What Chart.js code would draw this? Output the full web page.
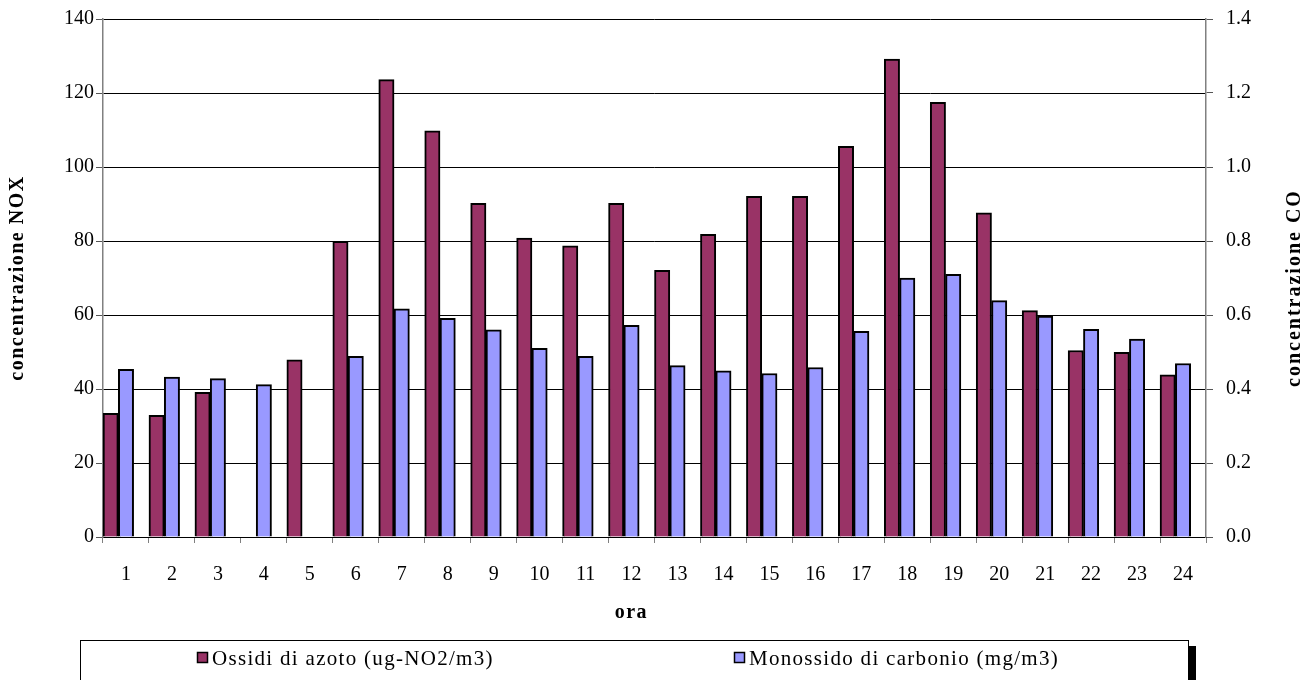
<!DOCTYPE html>
<html>
<head>
<meta charset="utf-8">
<script src="https://cdn.jsdelivr.net/npm/chart.js@4/dist/chart.umd.min.js"></script>
<style>
  html, body { margin: 0; padding: 0; background: #fff; }
  canvas { display: block; }
</style>
</head>
<body>
<canvas id="c" width="1316" height="680"></canvas>
<script>
// Hours of the day
const ore = ['1','2','3','4','5','6','7','8','9','10','11','12','13','14','15','16','17','18','19','20','21','22','23','24'];

// Nitrogen oxides, ug-NO2/m3 (left axis)
const ossidiAzoto = [33.4, 32.9, 39.1, null, 47.9, 79.9, 123.6, 109.8, 90.2, 80.8, 78.7, 90.2,
                     72.1, 81.8, 92.1, 92.1, 105.6, 129.2, 117.5, 87.6, 61.2, 50.4, 49.9, 43.8];

// Carbon monoxide, mg/m3 (right axis)
const monossidoCarbonio = [0.453, 0.432, 0.428, 0.412, null, 0.488, 0.617, 0.591, 0.560, 0.510, 0.488, 0.572,
                           0.463, 0.449, 0.442, 0.458, 0.556, 0.700, 0.710, 0.639, 0.597, 0.561, 0.535, 0.469];

// Empty slot so each pair of bars sits at the left of its hour band
const spazio = ore.map(() => null);

const etichette = ['Ossidi di azoto (ug-NO2/m3)', 'Monossido di carbonio (mg/m3)'];
const titoloNox = 'concentrazione NOX';
const titoloCo = 'concentrazione CO';
const titoloOra = 'ora';

const SERIF = '"Liberation Serif", "Times New Roman", serif';
const tickFont = { family: SERIF, size: 20 };

// Axis titles and the boxed legend, drawn on the same canvas
const decorazioni = {
  id: 'decorazioni',
  afterDraw(chart) {
    const ctx = chart.ctx;
    const a = chart.chartArea;
    const midY = (a.top + a.bottom) / 2;
    ctx.save();
    ctx.fillStyle = '#000';
    ctx.textAlign = 'center';
    ctx.textBaseline = 'middle';
    ctx.font = 'bold 20px ' + SERIF;
    ctx.letterSpacing = '1.5px';

    ctx.save();
    ctx.translate(18, midY);
    ctx.rotate(-Math.PI / 2);
    ctx.fillText(titoloNox, 0, 0);
    ctx.restore();

    ctx.save();
    ctx.letterSpacing = '2px';
    ctx.translate(1295, midY + 10);
    ctx.rotate(-Math.PI / 2);
    ctx.fillText(titoloCo, 0, 0);
    ctx.restore();

    ctx.fillText(titoloOra, a.left + (a.right - a.left) * 0.479, 613);

    // legend frame with its drop shadow
    ctx.fillStyle = '#000';
    ctx.fillRect(1189, 646, 7, 40);
    ctx.fillStyle = '#fff';
    ctx.fillRect(80.5, 640.5, 1108, 50);
    ctx.strokeStyle = '#000';
    ctx.lineWidth = 1;
    ctx.strokeRect(80.5, 640.5, 1108, 50);

    const xs = [197, 734];
    ctx.font = '21px ' + SERIF;
    ctx.letterSpacing = '1.3px';
    ctx.textAlign = 'left';
    chart.data.datasets.slice(0, 2).forEach((ds, i) => {
      ctx.fillStyle = ds.backgroundColor;
      ctx.fillRect(xs[i] + 0.5, 652.5, 10, 10);
      ctx.strokeStyle = '#000';
      ctx.lineWidth = 1.5;
      ctx.strokeRect(xs[i] + 0.5, 652.5, 10, 10);
      ctx.fillStyle = '#000';
      ctx.fillText(etichette[i], xs[i] + 15, 659);
    });
    ctx.restore();
  }
};

// vertical axes keep no extra room above or below the plot
const noVPad = s => { s.paddingTop = 0; s.paddingBottom = 0; };

new Chart(document.getElementById('c'), {
  type: 'bar',
  data: {
    labels: ore,
    datasets: [
      { label: etichette[0], data: ossidiAzoto, yAxisID: 'yNox',
        backgroundColor: '#993366', borderColor: '#000', borderWidth: 2 },
      { label: etichette[1], data: monossidoCarbonio, yAxisID: 'yCo',
        backgroundColor: '#9999FF', borderColor: '#000', borderWidth: 2 },
      { label: '', data: spazio, yAxisID: 'yNox', backgroundColor: 'rgba(0,0,0,0)', borderWidth: 0 }
    ]
  },
  options: {
    responsive: false,
    animation: false,
    devicePixelRatio: 1,
    categoryPercentage: 1.0,
    barPercentage: 1.0,
    layout: { padding: { top: 19, bottom: 93, left: 0, right: 0 } },
    plugins: { legend: { display: false }, tooltip: { enabled: false } },
    scales: {
      x: {
        offset: true,
        grid: { offset: true, drawOnChartArea: false, tickLength: 6, color: '#808080' },
        border: { color: '#000', width: 1 },
        ticks: { font: tickFont, color: '#000', padding: 20, maxRotation: 0, autoSkip: false },
        afterFit: s => { s.height = 50; s.paddingLeft = 0; s.paddingRight = 0; }
      },
      yNox: {
        position: 'left',
        min: 0, max: 140,
        ticks: { stepSize: 20, font: tickFont, color: '#000', padding: 2 },
        grid: { color: '#000', tickLength: 7, tickColor: '#555' },
        border: { color: '#808080', width: 1.5 },
        afterFit: s => { s.width = 103; noVPad(s); }
      },
      yCo: {
        position: 'right',
        min: 0, max: 1.4,
        ticks: { stepSize: 0.2, font: tickFont, color: '#000', padding: 13,
                 callback: v => Number(v).toFixed(1) },
        grid: { drawOnChartArea: false, tickLength: 7, tickColor: '#555' },
        border: { color: '#808080', width: 1.5 },
        afterFit: s => { s.width = 110; noVPad(s); }
      }
    }
  },
  plugins: [decorazioni]
});
</script>
</body>
</html>
